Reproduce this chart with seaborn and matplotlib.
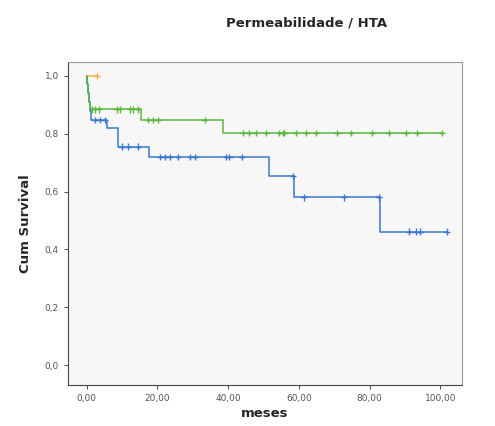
import matplotlib
matplotlib.use('Agg')
import matplotlib.pyplot as plt
from matplotlib.ticker import FuncFormatter
import seaborn as sns
import numpy as np
import pandas as pd

# Kaplan-Meier curves (months, cumulative survival)
# blue group: event times and survival level after each event
blue_times = [0.0, 0.3, 0.6, 0.9, 1.2, 5.7, 9.0, 17.7, 51.7, 58.7, 82.9]
blue_surv = [0.97, 0.94, 0.91, 0.88, 0.847, 0.818, 0.755, 0.72, 0.653, 0.58, 0.461]
blue_end = 102.0
blue_censored = [2.4, 3.8, 5.2, 9.9, 11.8, 14.6, 20.7, 22.1, 23.5, 25.9, 29.2,
                 30.6, 39.5, 40.4, 44.0, 58.3, 61.4, 72.8, 82.6, 91.1, 93.0,
                 94.4, 101.9]

# green group
green_times = [0.0, 0.3, 0.6, 0.9, 15.5, 38.5]
green_surv = [0.97, 0.94, 0.91, 0.884, 0.847, 0.803]
green_end = 100.5
green_censored = [1.5, 2.4, 3.4, 8.5, 9.4, 12.3, 13.2, 14.6, 17.4, 18.8, 20.2,
                  33.4, 44.2, 46.0, 47.9, 50.8, 54.5, 55.4, 55.9, 59.2, 62.0,
                  64.8, 70.9, 74.7, 80.8, 85.5, 90.2, 93.5, 100.5]

# orange group: single censored case, no events
orange_times = []
orange_surv = []
orange_end = 3.0
orange_censored = [3.0]

x_ticks = [0, 20, 40, 60, 80, 100]
y_ticks = [0.0, 0.2, 0.4, 0.6, 0.8, 1.0]

colors = {'blue': '#3b78d2', 'green': '#5cb83a', 'orange': '#f0b240'}


def step_frame(name, times, surv, end):
    t = [0.0] + list(times) + [end]
    s = [1.0] + list(surv) + [surv[-1] if surv else 1.0]
    return pd.DataFrame({'t': t, 's': s, 'grupo': name})


def censor_frame(name, times, surv, cens):
    t_arr = np.array(times)
    s_arr = np.array(surv)
    ys = []
    for c in cens:
        idx = np.searchsorted(t_arr, c, side='right') - 1
        ys.append(1.0 if idx < 0 else s_arr[idx])
    return pd.DataFrame({'t': cens, 's': ys, 'grupo': name})


steps = pd.concat([
    step_frame('orange', orange_times, orange_surv, orange_end),
    step_frame('blue', blue_times, blue_surv, blue_end),
    step_frame('green', green_times, green_surv, green_end),
], ignore_index=True)
cens = pd.concat([
    censor_frame('orange', orange_times, orange_surv, orange_censored),
    censor_frame('blue', blue_times, blue_surv, blue_censored),
    censor_frame('green', green_times, green_surv, green_censored),
], ignore_index=True)

sns.set_style('white')
fig = plt.figure(figsize=(4.95, 4.26), dpi=100)
ax = fig.add_axes([0.137, 0.096, 0.796, 0.758])
ax.set_facecolor('#f7f7f7')

sns.lineplot(data=steps, x='t', y='s', hue='grupo', palette=colors,
             estimator=None, sort=False, drawstyle='steps-post',
             linewidth=1.1, legend=False, ax=ax)
sns.scatterplot(data=cens, x='t', y='s', hue='grupo', palette=colors,
                marker='+', s=22, linewidth=1.0, legend=False, ax=ax, zorder=3)

ax.set_xlim(-5.3, 106.1)
ax.set_ylim(-0.069, 1.047)
ax.set_xticks(x_ticks)
ax.set_yticks(y_ticks)
ax.xaxis.set_major_formatter(FuncFormatter(lambda v, p: f'{v:.2f}'.replace('.', ',')))
ax.yaxis.set_major_formatter(FuncFormatter(lambda v, p: f'{v:.1f}'.replace('.', ',')))
ax.tick_params(axis='both', labelsize=6.5, colors='#555555', length=3,
               direction='out', bottom=True, left=True)
for sp in ax.spines.values():
    sp.set_color('#999999')
    sp.set_linewidth(0.8)
ax.spines['left'].set_color('#444444')
ax.spines['bottom'].set_color('#444444')

ax.set_xlabel('meses', fontsize=9.5, fontweight='bold', labelpad=3)
ax.set_ylabel('Cum Survival', fontsize=9.5, fontweight='bold', labelpad=9)
fig.text(0.62, 0.947, 'Permeabilidade / HTA', fontsize=9.5, fontweight='bold',
         ha='center', va='center')

fig.savefig('out.png', dpi=100)
